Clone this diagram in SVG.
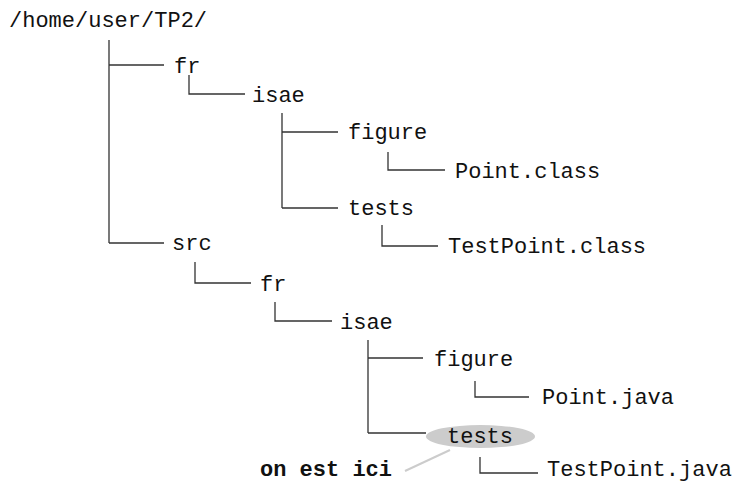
<svg xmlns="http://www.w3.org/2000/svg" width="738" height="482" viewBox="0 0 738 482">
<style>
text{font-family:"Liberation Mono","Courier New",monospace;font-size:22px;fill:#111}
.b{font-weight:bold}
.c{fill:none;stroke:#333;stroke-width:1.3}
.p{fill:none;stroke:#cccccc;stroke-width:2}
</style>
<rect width="738" height="482" fill="#ffffff"/>
<g id="connectors">
<path class="c" d="M109 40V243M109 65H164M109 243H164"/>
<path class="c" d="M189 75V94H245"/>
<path class="c" d="M282 113V208M282 132H338M282 208H338"/>
<path class="c" d="M388 152V170H445"/>
<path class="c" d="M382 225V246H438"/>
<path class="c" d="M195 262V283H251"/>
<path class="c" d="M275 302V321H332"/>
<path class="c" d="M368 340V433M368 358H423M368 433H426"/>
<path class="c" d="M475 381V397H529"/>
<path class="c" d="M480 457V473H538"/>
<path class="p" d="M405 471L450 450"/>
</g>
<g id="root"><text x="9" y="27">/home/user/TP2/</text></g>
<g id="fr1"><text x="174" y="73">fr</text></g>
<g id="isae1"><text x="252" y="102">isae</text></g>
<g id="figure1"><text x="348" y="139">figure</text></g>
<g id="pointclass"><text x="455" y="178">Point.class</text></g>
<g id="tests1"><text x="348" y="215">tests</text></g>
<g id="testpointclass"><text x="448" y="253">TestPoint.class</text></g>
<g id="src"><text x="172" y="250">src</text></g>
<g id="fr2"><text x="260" y="291">fr</text></g>
<g id="isae2"><text x="340" y="329">isae</text></g>
<g id="figure2"><text x="434" y="366">figure</text></g>
<g id="pointjava"><text x="542" y="404">Point.java</text></g>
<g id="tests2"><ellipse cx="480.5" cy="436.5" rx="54.5" ry="11.5" fill="#cccccc"/><text x="447" y="443">tests</text></g>
<g id="testpointjava"><text x="547" y="476">TestPoint.java</text></g>
<g id="label"><text class="b" x="260" y="476">on est ici</text></g>
</svg>
